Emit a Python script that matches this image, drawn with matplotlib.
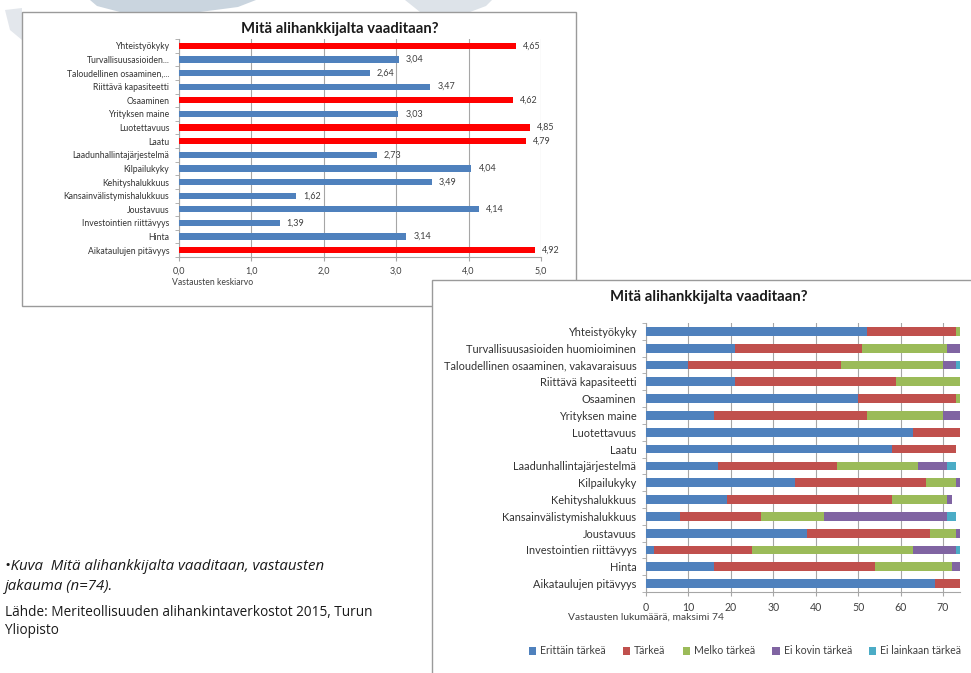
import matplotlib
matplotlib.use("Agg")
import matplotlib.pyplot as plt
from matplotlib.patches import Rectangle, Polygon
import numpy as np

plt.rcParams['font.family'] = ['Lato', 'DejaVu Sans']

# ---- data -------------------------------------------------------------
categories = [
    "Yhteistyökyky",
    "Turvallisuusasioiden huomioiminen",
    "Taloudellinen osaaminen, vakavaraisuus",
    "Riittävä kapasiteetti",
    "Osaaminen",
    "Yrityksen maine",
    "Luotettavuus",
    "Laatu",
    "Laadunhallintajärjestelmä",
    "Kilpailukyky",
    "Kehityshalukkuus",
    "Kansainvälistymishalukkuus",
    "Joustavuus",
    "Investointien riittävyys",
    "Hinta",
    "Aikataulujen pitävyys",
]
short_categories = [
    "Yhteistyökyky",
    "Turvallisuusasioiden...",
    "Taloudellinen osaaminen,...",
    "Riittävä kapasiteetti",
    "Osaaminen",
    "Yrityksen maine",
    "Luotettavuus",
    "Laatu",
    "Laadunhallintajärjestelmä",
    "Kilpailukyky",
    "Kehityshalukkuus",
    "Kansainvälistymishalukkuus",
    "Joustavuus",
    "Investointien riittävyys",
    "Hinta",
    "Aikataulujen pitävyys",
]
mean_scores = [4.65, 3.04, 2.64, 3.47, 4.62, 3.03, 4.85, 4.79,
               2.73, 4.04, 3.49, 1.62, 4.14, 1.39, 3.14, 4.92]

level_names = ["Erittäin tärkeä", "Tärkeä", "Melko tärkeä",
               "Ei kovin tärkeä", "Ei lainkaan tärkeä"]
erittain_tarkea = [52, 21, 10, 21, 50, 16, 63, 58, 17, 35, 19, 8, 38, 2, 16, 68]
tarkea          = [21, 30, 36, 38, 23, 36, 11, 15, 28, 31, 39, 19, 29, 23, 38, 6]
melko_tarkea    = [1, 20, 24, 15, 1, 18, 0, 0, 19, 7, 13, 15, 6, 38, 18, 0]
ei_kovin        = [0, 3, 3, 0, 0, 4, 0, 0, 7, 1, 1, 29, 1, 10, 2, 0]
ei_lainkaan     = [0, 0, 1, 0, 0, 0, 0, 0, 2, 0, 0, 2, 0, 1, 0, 0]

mean_ticks = [0, 1, 2, 3, 4, 5]
count_ticks = [0, 10, 20, 30, 40, 50, 60, 70]
count_max = 74
highlight_limit = 4.5

title = "Mitä alihankkijalta vaaditaan?"

# ---- figure -----------------------------------------------------------
W, H = 971, 673
fig = plt.figure(figsize=(W / 100, H / 100), dpi=100)
fig.patch.set_facecolor("white")


def rect(left, top, right, bottom):
    return [left / W, 1 - bottom / H, (right - left) / W, (bottom - top) / H]


def fx(x):
    return x / W


def fy(y):
    return 1 - y / H


# slide background ribbons along the top edge
for pts, col in [
    ([(90, 0), (256, 0), (238, 7), (200, 12), (120, 12), (97, 6)], "#cad5df"),
    ([(405, 0), (492, 0), (486, 6), (470, 12), (420, 12)], "#dde3e9"),
    ([(5, 10), (22, 8), (22, 40), (10, 30)], "#e3e7ec"),
]:
    fig.add_artist(Polygon([(fx(a), fy(b)) for a, b in pts], closed=True,
                           transform=fig.transFigure, facecolor=col,
                           edgecolor="none", zorder=-5))

# chart frames
fig.add_artist(Rectangle((fx(22), fy(306)), fx(576) - fx(22), fy(12) - fy(306),
                         transform=fig.transFigure, facecolor="white",
                         edgecolor="#9a9a9a", linewidth=1.0, zorder=-3))
fig.add_artist(Rectangle((fx(432), fy(690)), fx(990) - fx(432), fy(280) - fy(690),
                         transform=fig.transFigure, facecolor="white",
                         edgecolor="#9a9a9a", linewidth=1.0, zorder=-2))

grid_col = "#a6a6a6"
n = len(categories)
y = np.arange(n)

# ---- chart 1: mean scores ---------------------------------------------
ax1 = fig.add_axes(rect(179, 39, 541, 257))
ax1.set_facecolor("none")
colors1 = ["#ff0000" if v >= highlight_limit else "#4f81bd" for v in mean_scores]
ax1.barh(y, mean_scores, height=0.45, color=colors1, zorder=3)
for yi, v in zip(y, mean_scores):
    ax1.annotate(f"{v:.2f}".replace(".", ","), (v, yi), xytext=(5, 0),
                 textcoords="offset points", va="center", ha="left",
                 fontsize=6.5, color="#404040")
ax1.set_xlim(0, 5)
ax1.set_ylim(n - 0.5, -0.5)
ax1.set_xticks(mean_ticks)
ax1.set_xticklabels([f"{t:.1f}".replace(".", ",") for t in mean_ticks])
ax1.set_yticks(y)
ax1.set_yticklabels(short_categories)
ax1.set_yticks(np.arange(-0.5, n, 1), minor=True)
ax1.tick_params(axis="y", which="major", length=0, labelsize=6.2, pad=7,
                labelcolor="#333333")
ax1.tick_params(axis="y", which="minor", length=3, color=grid_col)
ax1.tick_params(axis="x", length=3, color=grid_col, labelsize=6.5,
                labelcolor="#404040", pad=4)
ax1.grid(axis="x", color=grid_col, linewidth=0.8, zorder=0)
for s in ["top", "right"]:
    ax1.spines[s].set_visible(False)
for s in ["left", "bottom"]:
    ax1.spines[s].set_color(grid_col)
fig.text(fx(340), fy(29), title, ha="center", va="center",
         fontsize=10.7, fontweight="bold", color="#1a1a1a")
fig.text(fx(172), fy(282), "Vastausten keskiarvo", ha="left", va="center",
         fontsize=6.2, color="#404040")

# ---- chart 2: response distribution -----------------------------------
ax2 = fig.add_axes(rect(646, 323, 960, 592))
ax2.set_facecolor("none")
colors2 = ["#4f81bd", "#c0504d", "#9bbb59", "#8064a2", "#4bacc6"]
series = [erittain_tarkea, tarkea, melko_tarkea, ei_kovin, ei_lainkaan]
left = np.zeros(n)
for name, vals, col in zip(level_names, series, colors2):
    vals = np.array(vals, dtype=float)
    ax2.barh(y, vals, left=left, height=0.52, color=col, label=name, zorder=3)
    left += vals
ax2.set_xlim(0, count_max)
ax2.set_ylim(n - 0.5, -0.5)
ax2.set_xticks(count_ticks)
ax2.set_yticks(y)
ax2.set_yticklabels(categories)
ax2.set_yticks(np.arange(-0.5, n, 1), minor=True)
ax2.tick_params(axis="y", which="major", length=0, labelsize=7.9, pad=7,
                labelcolor="#333333")
ax2.tick_params(axis="y", which="minor", length=3, color=grid_col)
ax2.tick_params(axis="x", length=3, color=grid_col, labelsize=7.6,
                labelcolor="#404040", pad=4)
ax2.grid(axis="x", color=grid_col, linewidth=0.8, zorder=0)
for s in ["top", "right"]:
    ax2.spines[s].set_visible(False)
for s in ["left", "bottom"]:
    ax2.spines[s].set_color(grid_col)
fig.text(fx(709), fy(297), title, ha="center", va="center",
         fontsize=10.7, fontweight="bold", color="#1a1a1a")
fig.text(fx(646), fy(617), "Vastausten lukumäärä, maksimi 74", ha="center",
         va="center", fontsize=7.4, color="#404040")
handles, labels = ax2.get_legend_handles_labels()
fig.legend(handles, labels, loc="center", bbox_to_anchor=(fx(745), fy(651)),
           ncol=5, frameon=False, fontsize=7.6, handlelength=0.7,
           handleheight=0.7, handletextpad=0.4, columnspacing=1.6,
           labelcolor="#404040")

# ---- caption ------------------------------------------------------------
cap_font = ['Open Sans', 'DejaVu Sans']
fig.text(fx(5), fy(567), "•Kuva  Mitä alihankkijalta vaaditaan, vastausten",
         ha="left", va="center", fontsize=10.8, style="italic",
         family=cap_font, color="#1a1a1a")
fig.text(fx(5), fy(586), "jakauma (n=74).", ha="left", va="center",
         fontsize=10.8, style="italic", family=cap_font, color="#1a1a1a")
fig.text(fx(5), fy(612), "Lähde: Meriteollisuuden alihankintaverkostot 2015, Turun",
         ha="left", va="center", fontsize=9.8, family=cap_font, color="#1a1a1a")
fig.text(fx(5), fy(631), "Yliopisto", ha="left", va="center",
         fontsize=9.8, family=cap_font, color="#1a1a1a")

fig.savefig("out.png", dpi=100)
